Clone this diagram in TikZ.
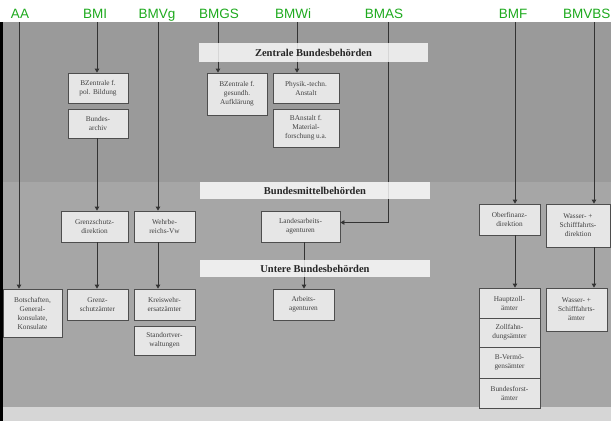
\documentclass[tikz,border=0pt]{standalone}
\usepackage{fontspec}
\setmainfont{Liberation Serif}
\newfontfamily\minfont{Liberation Sans}
\usepackage{xcolor}
\usepackage{tikz}
\usetikzlibrary{arrows.meta}

\definecolor{bggray}{RGB}{154,154,154}
\definecolor{bglight}{RGB}{166,166,166}
\definecolor{bgbottom}{RGB}{214,214,214}
\definecolor{boxfill}{RGB}{230,230,230}
\definecolor{boxline}{RGB}{78,78,78}
\definecolor{mingreen}{RGB}{30,170,30}

\begin{document}
\begin{tikzpicture}[x=1pt,y=-1pt,
  office/.style={draw=boxline,fill=boxfill,line width=0.8pt,inner sep=1pt,
    align=center,text=black!75,font=\fontsize{7.3}{9}\selectfont},
  link/.style={draw=black!80,line width=0.8pt},
  arr/.style={link,-{Triangle[length=4pt,width=4.5pt]}},
  tier/.style={fill=white,fill opacity=0.8,text opacity=1,inner sep=0pt,
    font=\fontsize{10.5}{12}\selectfont\bfseries,text=black!85},
  ministry/.style={text=mingreen,inner sep=0pt,anchor=base,font=\minfont\fontsize{13.5}{15}\selectfont}]

\useasboundingbox (0,0) rectangle (611,421);
\clip (0,0) rectangle (611,421);

% Background of the scan
\fill[white] (0,0) rectangle (611,22);
\fill[bggray] (0,22) rectangle (611,182);
\fill[bglight] (0,182) rectangle (611,407);
\fill[bgbottom] (0,407) rectangle (611,421);
\fill[black] (0,22) rectangle (3,421);

% Ministries
\node[ministry] (AA) at (20,18) {AA};
\node[ministry] (BMI) at (95,18) {BMI};
\node[ministry] (BMVg) at (157,18) {BMVg};
\node[ministry] (BMGS) at (219,18) {BMGS};
\node[ministry] (BMWi) at (293,18) {BMWi};
\node[ministry] (BMAS) at (384,18) {BMAS};
\node[ministry] (BMF) at (513,18) {BMF};
\node[ministry,anchor=base west] (BMVBS) at (563,18) {BMVBS};

\coordinate (aa top) at (19,22);
\coordinate (bmi top) at (97,22);
\coordinate (bmvg top) at (158,22);
\coordinate (bmgs top) at (218,22);
\coordinate (bmwi top) at (297,22);
\coordinate (bmas top) at (388,22);
\coordinate (bmf top) at (515,22);
\coordinate (bmvbs top) at (594,22);

% Zentrale Bundesbehoerden
\node[office,minimum width=60pt,minimum height=30pt] (pol) at (98,88) {BZentrale f.\\pol. Bildung};
\node[office,minimum width=60pt,minimum height=29pt] (archiv) at (98,123.5) {Bundes-\\archiv};
\node[office,minimum width=60pt,minimum height=42pt] (gesundh) at (237,94) {BZentrale f.\\gesundh.\\Aufklärung};
\node[office,minimum width=66pt,minimum height=30pt] (ptb) at (306,88) {Physik.-techn.\\Anstalt};
\node[office,minimum width=66pt,minimum height=38pt] (bam) at (306,128) {BAnstalt f.\\Material-\\forschung u.a.};

% Bundesmittelbehoerden
\node[office,minimum width=67pt,minimum height=31pt] (grenzdir) at (94.5,226.5) {Grenzschutz-\\direktion};
\node[office,minimum width=61pt,minimum height=31pt] (wehr) at (164.5,226.5) {Wehrbe-\\reichs-Vw};
\node[office,minimum width=79pt,minimum height=31pt] (landes) at (300.5,226.5) {Landesarbeits-\\agenturen};
\node[office,minimum width=61pt,minimum height=31pt] (ofd) at (509.5,219.5) {Oberfinanz-\\direktion};
\node[office,minimum width=64pt,minimum height=43pt] (wsd) at (578,225.5) {Wasser- +\\Schifffahrts-\\direktion};

% Untere Bundesbehoerden
\node[office,minimum width=59pt,minimum height=48pt] (botsch) at (32.5,313) {Botschaften,\\General-\\konsulate,\\Konsulate};
\node[office,minimum width=61pt,minimum height=31pt] (grenzamt) at (97.5,304.5) {Grenz-\\schutzämter};
\node[office,minimum width=61pt,minimum height=31pt] (kwea) at (164.5,304.5) {Kreiswehr-\\ersatzämter};
\node[office,minimum width=61pt,minimum height=29pt] (stov) at (164.5,340.5) {Standortver-\\waltungen};
\node[office,minimum width=61pt,minimum height=31pt] (agentur) at (303.5,304.5) {Arbeits-\\agenturen};
\node[office,minimum width=61pt,minimum height=30pt] (hza) at (509.5,303) {Hauptzoll-\\ämter};
\node[office,minimum width=61pt,minimum height=29pt] (zfa) at (509.5,332.5) {Zollfahn-\\dungsämter};
\node[office,minimum width=61pt,minimum height=31pt] (bverm) at (509.5,362.5) {B-Vermö-\\gensämter};
\node[office,minimum width=61pt,minimum height=30pt] (bforst) at (509.5,393) {Bundesforst-\\ämter};
\node[office,minimum width=61pt,minimum height=43pt] (wsa) at (576.5,309.5) {Wasser- +\\Schifffahrts-\\ämter};

% Lines of the ministries
\draw[arr] (aa top) -- (aa top |- botsch.north);
\draw[arr] (bmi top) -- (bmi top |- pol.north);
\draw[arr] (bmi top |- archiv.south) -- (bmi top |- grenzdir.north);
\draw[arr] (bmi top |- grenzdir.south) -- (bmi top |- grenzamt.north);
\draw[arr] (bmvg top) -- (bmvg top |- wehr.north);
\draw[arr] (bmvg top |- wehr.south) -- (bmvg top |- kwea.north);
\draw[arr] (bmgs top) -- (bmgs top |- gesundh.north);
\draw[arr] (bmwi top) -- (bmwi top |- ptb.north);
\draw[arr] (bmas top) |- ([yshift=4pt]landes.east);
\draw[arr] ([xshift=3.5pt]landes.south) -- ([xshift=3.5pt]landes.south |- agentur.north);
\draw[arr] (bmf top) -- (bmf top |- ofd.north);
\draw[arr] (bmf top |- ofd.south) -- (bmf top |- hza.north);
\draw[arr] (bmvbs top) -- (bmvbs top |- wsd.north);
\draw[arr] (bmvbs top |- wsd.south) -- (bmvbs top |- wsa.north);

% Tiers
\node[tier,minimum width=229pt,minimum height=19pt] (zentral) at (313.5,52.5) {Zentrale Bundesbehörden};
\node[tier,minimum width=230pt,minimum height=17pt] (mittel) at (315,190.5) {Bundesmittelbehörden};
\node[tier,minimum width=230pt,minimum height=17pt] (untere) at (315,268.5) {Untere Bundesbehörden};

\end{tikzpicture}
\end{document}
